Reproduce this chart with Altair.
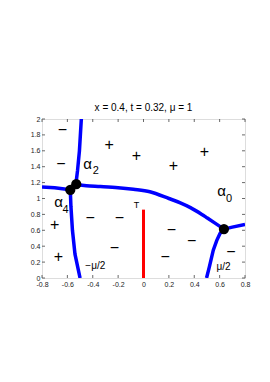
import altair as alt
import pandas as pd

W, H = 203, 159

# curves (x, y)
curve_a_x = [-0.49, -0.505, -0.52, -0.533]
curve_a_y = [2.0, 1.6, 1.35, 1.18]
curve_b_x = [-0.577, -0.572, -0.56, -0.54, -0.50]
curve_b_y = [1.11, 0.9, 0.6, 0.3, 0.0]
curve_c_x = [-0.8, -0.7, -0.577]
curve_c_y = [1.145, 1.135, 1.11]
curve_d_x = [-0.53, -0.45, -0.34, -0.2, -0.08, 0.05, 0.2, 0.29, 0.37, 0.46, 0.503, 0.634]
curve_d_y = [1.18, 1.16, 1.15, 1.135, 1.115, 1.085, 1.0, 0.945, 0.885, 0.8, 0.755, 0.615]
curve_e_x = [0.634, 0.7, 0.8]
curve_e_y = [0.615, 0.64, 0.675]
curve_f_x = [0.634, 0.603, 0.577, 0.55, 0.519, 0.497]
curve_f_y = [0.615, 0.56, 0.47, 0.35, 0.14, 0.0]

dot_x = [-0.53, -0.577, 0.634]
dot_y = [1.18, 1.11, 0.615]

red_x = [0.0]
red_y0 = [0.0]
red_y1 = [0.86]

plus_x = [-0.27, -0.055, 0.235, 0.48, -0.70, -0.67]
plus_y = [1.67, 1.54, 1.41, 1.58, 0.67, 0.27]
minus_x = [-0.64, -0.65, -0.42, -0.19, -0.23, 0.22, 0.38, 0.17, 0.69]
minus_y = [1.86, 1.43, 0.75, 0.76, 0.38, 0.61, 0.46, 0.27, 0.33]

label_text = ["α", "2", "α", "4", "α", "0", "−μ/2", "μ/2", "T"]
label_x = [-0.44, -0.375, -0.67, -0.615, 0.616, 0.674, -0.38, 0.63, -0.055]
label_y = [1.43, 1.34, 0.955, 0.86, 1.095, 1.0, 0.15, 0.14, 0.92]
label_size = [15, 11, 15, 11, 15, 11, 10, 10, 9]

xticks = [-0.8, -0.6, -0.4, -0.2, 0, 0.2, 0.4, 0.6, 0.8]
yticks = [0, 0.2, 0.4, 0.6, 0.8, 1, 1.2, 1.4, 1.6, 1.8, 2]

FONT = "Liberation Sans"

rows = []
for name, xs_, ys_ in [("a", curve_a_x, curve_a_y), ("b", curve_b_x, curve_b_y),
                       ("c", curve_c_x, curve_c_y), ("e", curve_e_x, curve_e_y),
                       ("f", curve_f_x, curve_f_y)]:
    for i, (a, b) in enumerate(zip(xs_, ys_)):
        rows.append({"curve": name, "i": i, "x": a, "y": b})
curves = pd.DataFrame(rows)
arc = pd.DataFrame({"x": curve_d_x, "y": curve_d_y, "i": list(range(len(curve_d_x)))})

xs = alt.Scale(domain=[-0.8, 0.8], nice=False, zero=False)
ys = alt.Scale(domain=[0, 2], nice=False, zero=False)

lab_expr = "replace(format(datum.value, '.1~f'), '\u2212', '-')"

x_axis = alt.Axis(values=xticks, ticks=False, domain=False, grid=False,
                  labelExpr=lab_expr, labelFontSize=7, labelFont=FONT,
                  labelColor="#222", labelPadding=2, title=None,
                  labelOverlap=False, labelFlush=False, labelBound=False)
y_axis = alt.Axis(values=yticks, ticks=False, domain=False, grid=False,
                  labelExpr=lab_expr, labelFontSize=7, labelFont=FONT,
                  labelColor="#222", labelPadding=2, title=None,
                  labelOverlap=False, labelFlush=False, labelBound=False)


def X():
    return alt.X("x:Q", scale=xs, axis=x_axis)


def Y():
    return alt.Y("y:Q", scale=ys, axis=y_axis)


lines = alt.Chart(curves).mark_line(color="#0000ff", strokeWidth=3.5, clip=True).encode(
    x=X(), y=Y(), detail="curve:N", order="i:Q")
arc_line = alt.Chart(arc).mark_line(color="#0000ff", strokeWidth=3.5, clip=True,
                                    interpolate="catmull-rom").encode(x=X(), y=Y(), order="i:Q")

red = alt.Chart(pd.DataFrame({"x": red_x, "y": red_y0, "y2": red_y1})).mark_rule(
    color="#ff0000", strokeWidth=3).encode(x=X(), y=Y(), y2="y2:Q")

dots = alt.Chart(pd.DataFrame({"x": dot_x, "y": dot_y})).mark_circle(
    color="black", size=105, opacity=1).encode(x=X(), y=Y())

signs = pd.DataFrame({"x": plus_x + minus_x, "y": plus_y + minus_y,
                      "t": ["+"] * len(plus_x) + ["\u2212"] * len(minus_x)})
sign_layer = alt.Chart(signs).mark_text(fontSize=16, font=FONT, color="black").encode(
    x=X(), y=Y(), text="t:N")

labels = pd.DataFrame({"x": label_x, "y": label_y, "t": label_text, "s": label_size})
label_layer = alt.Chart(labels).mark_text(font=FONT, color="black").encode(
    x=X(), y=Y(), text="t:N", size=alt.Size("s:Q", scale=None, legend=None))

xt = pd.DataFrame({"x": xticks})
yt = pd.DataFrame({"y": yticks})
tick_col = "#444"
xb = alt.Chart(xt).mark_rule(color=tick_col, strokeWidth=0.8).encode(
    x=X(), y=alt.value(H), y2=alt.value(H - 3))
xtp = alt.Chart(xt).mark_rule(color=tick_col, strokeWidth=0.8).encode(
    x=X(), y=alt.value(0), y2=alt.value(3))
yl = alt.Chart(yt).mark_rule(color=tick_col, strokeWidth=0.8).encode(
    y=Y(), x=alt.value(0), x2=alt.value(3))
yr = alt.Chart(yt).mark_rule(color=tick_col, strokeWidth=0.8).encode(
    y=Y(), x=alt.value(W), x2=alt.value(W - 3))

chart = alt.layer(lines, arc_line, xb, xtp, yl, yr, red, dots, sign_layer, label_layer).properties(
    width=W, height=H,
    title=alt.TitleParams("x = 0.4, t = 0.32, μ = 1", fontSize=10, font=FONT, fontWeight="normal",
                          color="black", offset=2),
    autosize=alt.AutoSizeParams(type="none"),
    padding={"left": 34, "top": 111, "right": 10, "bottom": 10},
).configure_view(stroke="#444", strokeWidth=1).configure(background="white")

chart.save("out.html", embed_options={"renderer": "svg", "actions": False})
